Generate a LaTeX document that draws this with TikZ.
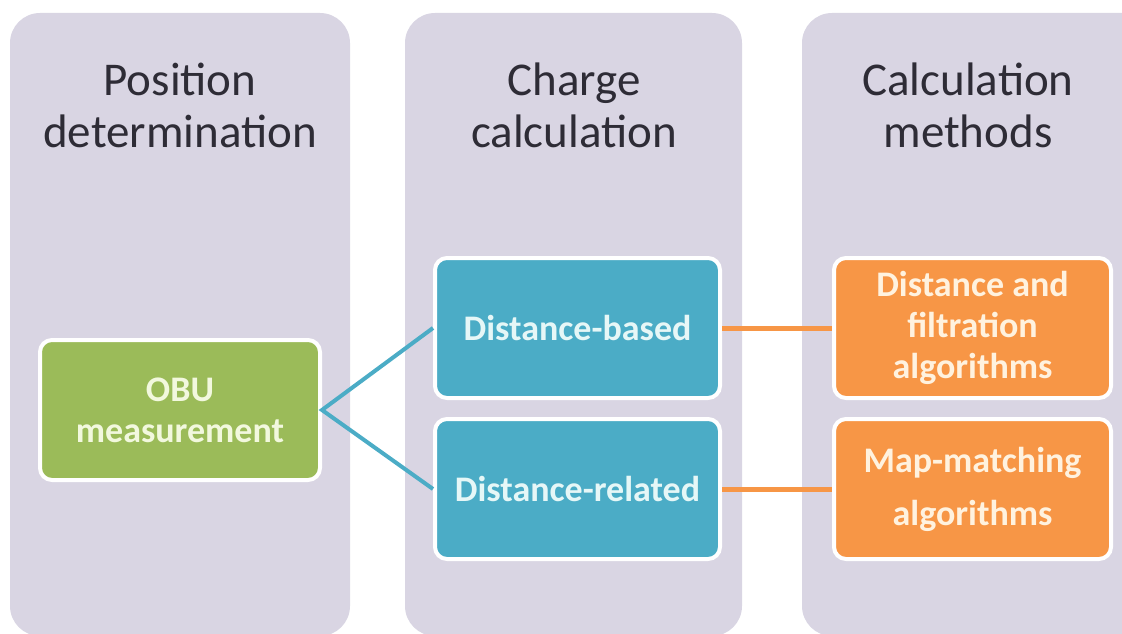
\documentclass[tikz,border=0pt]{standalone}
\usepackage{fontspec}
\setmainfont{Carlito}
\begin{document}
\begin{tikzpicture}[x=1pt,y=-1pt,
  column/.style={fill=lane, rounded corners=30pt},
  heading/.style={align=center, text=headtext, font=\fontsize{47}{52}\selectfont},
  item/.style={draw=white, line width=4pt, rounded corners=12pt, align=center,
    font=\bfseries\fontsize{36}{41}\selectfont, inner sep=0pt},
  obubox/.style={item, fill=obugreen, text=greentext, minimum width=280pt, minimum height=140pt},
  chargebox/.style={item, fill=chargeblue, text=bluetext, minimum width=285pt, minimum height=140pt},
  methodbox/.style={item, fill=methodorange, text=orangetext, minimum width=277pt, minimum height=140pt},
  blueline/.style={draw=chargeblue, line width=4pt},
  orangeline/.style={draw=methodorange, line width=5pt}]
\definecolor{lane}{HTML}{D9D5E3}
\definecolor{headtext}{HTML}{2E2C36}
\definecolor{obugreen}{HTML}{9BBB59}
\definecolor{chargeblue}{HTML}{4BACC6}
\definecolor{methodorange}{HTML}{F79646}
\definecolor{greentext}{HTML}{F2F8DE}
\definecolor{bluetext}{HTML}{E6F7F7}
\definecolor{orangetext}{HTML}{FFF2DF}

\useasboundingbox (0,0) rectangle (1122,634);
\clip (0,0) rectangle (1122,634);

% three lanes
\fill[column] (10,13) rectangle (350,636);
\fill[column] (405,13) rectangle (742,636);
\fill[column] (802,13) rectangle (1160,636);

% lane headings
\node[heading] (h1) at (180,105) {Position\\determination};
\node[heading] (h2) at (574,105) {Charge\\calculation};
\node[heading] (h3) at (968,105) {Calculation\\methods};

% boxes
\node[obubox] (obu) at (180,410) {OBU\\measurement};
\node[chargebox] (db) at (577.5,328) {Distance-based};
\node[chargebox] (dr) at (577.5,489) {Distance-related};
\node[methodbox] (dfa) at (972.5,328) {Distance and\\filtration\\algorithms};
\node[methodbox] (mma) at (972.5,489) {Map-matching\\[12pt]algorithms};

% connectors
\coordinate (fork) at (obu.east);
\draw[blueline] (db.west) -- (fork) -- (dr.west);
\draw[orangeline] (db.east) -- (dfa.west);
\draw[orangeline] (dr.east) -- (mma.west);
\end{tikzpicture}
\end{document}
